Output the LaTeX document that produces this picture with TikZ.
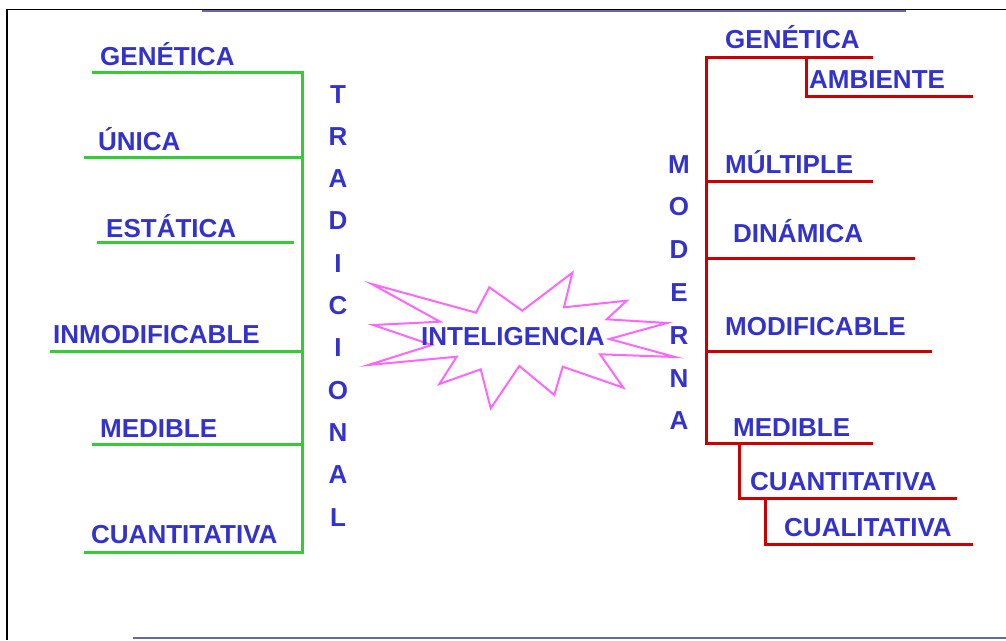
\documentclass[tikz,border=0pt]{standalone}
\usepackage{fontspec}
\setmainfont{Liberation Sans}
\definecolor{azul}{RGB}{51,51,204}
\definecolor{verde}{RGB}{51,204,51}
\definecolor{rojo}{RGB}{204,0,0}
\definecolor{rosa}{RGB}{255,102,255}
\definecolor{lila}{RGB}{102,102,170}
\tikzset{
	lbl/.style={anchor=base west,inner sep=0,text=azul,font=\fontsize{26}{30}\selectfont\bfseries},
	ltr/.style={anchor=base,inner sep=0,text=azul,font=\fontsize{26}{30}\selectfont\bfseries},
	trad/.style={verde,line width=3pt},
	mod/.style={rojo,line width=3pt}
}
\begin{document}
\begin{tikzpicture}[x=1pt,y=-1pt,line join=miter]
		\useasboundingbox (0,0) rectangle (1006,640);
		\draw[line width=1.5pt] (7,640)--(7,9.5)--(1006,9.5);
		\draw[lila,line width=2pt] (202,11)--(906,11);
		\draw[lila,line width=2pt] (133,637.5)--(1006,637.5);
		\draw[trad] (92,72)--(302,72)--(302,552)--(84,552);
		\draw[trad] (84,157)--(302,157);
		\draw[trad] (97,242)--(294,242);
		\draw[trad] (50,351)--(302,351);
		\draw[trad] (92,444)--(302,444);
		\node[lbl] (lgen) at (100,65) {GENÉTICA};
		\node[lbl] (luni) at (98,150) {ÚNICA};
		\node[lbl] (lest) at (106,237) {ESTÁTICA};
		\node[lbl] (linm) at (53,343) {INMODIFICABLE};
		\node[lbl] (lmed) at (100,437) {MEDIBLE};
		\node[lbl] (lcua) at (91,543) {CUANTITATIVA};
		\foreach \c [count=\i from 0] in {T,R,A,D,I,C,I,O,N,A,L}
			\node[ltr] (t\i) at (338,103+42.3*\i) {\c};
		\draw[rosa,line width=2pt] (371.7,284)--(476,312.7)--(489.3,287.3)--(522.3,310.7)--(572.3,272.7)--(564,307.3)--(626.7,300.7)--(606.7,319.3)--(667,323)--(609.3,339)--(675,357)--(600,354.3)--(623.3,387.7)--(562.7,366.7)--(554.3,395)--(519.3,366)--(490.7,408.3)--(480.7,369.3)--(439.3,384)--(456.7,356.7)--(368.3,365)--(431.7,345)--(373.3,325)--(440,321.7)--cycle;
		\node[lbl] (intel) at (421,345) {INTELIGENCIA};
		\foreach \c [count=\i from 0] in {M,O,D,E,R,N,A}
			\node[ltr] (m\i) at (679,173+42.8*\i) {\c};
		\draw[mod] (873,57)--(706,57)--(706,443)--(873,443);
		\draw[mod] (806,57)--(806,96)--(973,96);
		\draw[mod] (706,181)--(873,181);
		\draw[mod] (706,258)--(915,258);
		\draw[mod] (706,351)--(932,351);
		\draw[mod] (739,443)--(739,498)--(957,498);
		\draw[mod] (765,498)--(765,544)--(973,544);
		\node[lbl] (rgen) at (725,48) {GENÉTICA};
		\node[lbl] (ramb) at (809,88) {AMBIENTE};
		\node[lbl] (rmul) at (725,173) {MÚLTIPLE};
		\node[lbl] (rdin) at (733,242) {DINÁMICA};
		\node[lbl] (rmod) at (725,335) {MODIFICABLE};
		\node[lbl] (rmed) at (733,436) {MEDIBLE};
		\node[lbl] (rcua) at (750,490) {CUANTITATIVA};
		\node[lbl] (rcul) at (784,536) {CUALITATIVA};
	\end{tikzpicture}
\end{document}
